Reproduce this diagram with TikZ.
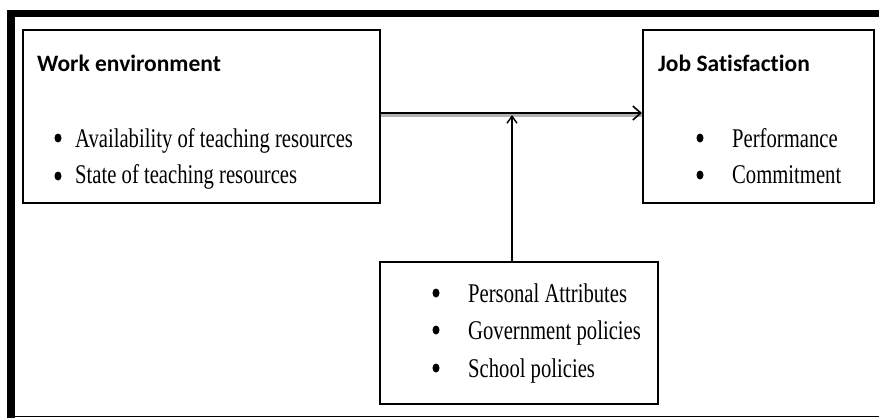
\documentclass[tikz,border=0pt]{standalone}
\usepackage{fontspec}
\setmainfont{Liberation Serif}
\newfontfamily\headfont[Ligatures=NoCommon]{Carlito}
\newfontfamily\bodyfont[FakeStretch=0.765]{Liberation Serif}
\usetikzlibrary{arrows.meta,shapes.geometric}

\tikzset{
  box/.style={draw=black, line width=1.5pt, rectangle, anchor=north west, inner sep=0pt},
  headtext/.style={anchor=base west, inner sep=0pt, font=\headfont\bfseries\fontsize{23.5}{23.5}\selectfont},
  itemtext/.style={anchor=base west, inner sep=0pt, font=\bodyfont\fontsize{27}{27}\selectfont},
  bulletdot/.style={ellipse, fill=black, inner sep=0pt, minimum width=7pt, minimum height=9pt},
  framerule/.style={draw=black},
  link/.style={draw=black, line width=1.4pt},
}

\begin{document}
\begin{tikzpicture}[x=1pt, y=-1pt]
  \useasboundingbox (0,0) rectangle (879,418);

  % outer frame: heavy top and left rules, thin bottom rule
  \draw[framerule, line width=7pt] (7,13.5) -- (879,13.5);
  \draw[framerule, line width=8pt] (11,10) -- (11,418);
  \draw[framerule, line width=1.5pt] (7,416.5) -- (879,416.5);

  % boxes
  \node[box, minimum width=357pt, minimum height=173pt] (work) at (22,29) {};
  \node[box, minimum width=231pt, minimum height=173pt] (job) at (642,29) {};
  \node[box, minimum width=278pt, minimum height=142pt] (other) at (379,261) {};

  % work environment
  \node[headtext] (workhead) at (37,71) {Work environment};
  \node[bulletdot] (wb1) at (58,138) {};
  \node[itemtext] (wt1) at (75,147) {Availability of teaching resources};
  \node[bulletdot] (wb2) at (58,176) {};
  \node[itemtext] (wt2) at (75,183) {State of teaching resources};

  % job satisfaction
  \node[headtext] (jobhead) at (658,71) {Job Satisfaction};
  \node[bulletdot] (jb1) at (700,138) {};
  \node[itemtext] (jt1) at (732,147) {Performance};
  \node[bulletdot] (jb2) at (700,175) {};
  \node[itemtext] (jt2) at (732,183) {Commitment};

  % moderating factors
  \node[bulletdot] (ob1) at (436,293) {};
  \node[itemtext] (ot1) at (468,302) {Personal Attributes};
  \node[bulletdot] (ob2) at (436,330) {};
  \node[itemtext] (ot2) at (468,339) {Government policies};
  \node[bulletdot] (ob3) at (436,368) {};
  \node[itemtext] (ot3) at (468,377) {School policies};

  % connectors
  \coordinate (hy) at (0,113);
  \coordinate (joint) at (512,113);
  \draw[draw=black!30, line width=3pt] ([yshift=-2.5pt]work.east |- hy) -- ([yshift=-2.5pt]job.west |- hy);
  \draw[link, line width=2.2pt, -{Straight Barb[length=8pt,width=14pt,line width=1.6pt]}]
    (work.east |- hy) -- (job.west |- hy);
  \draw[link, -{Straight Barb[length=7pt,width=10pt,line width=1.4pt]}]
    (other.north -| joint) -- ([yshift=-2pt]joint);
\end{tikzpicture}
\end{document}
